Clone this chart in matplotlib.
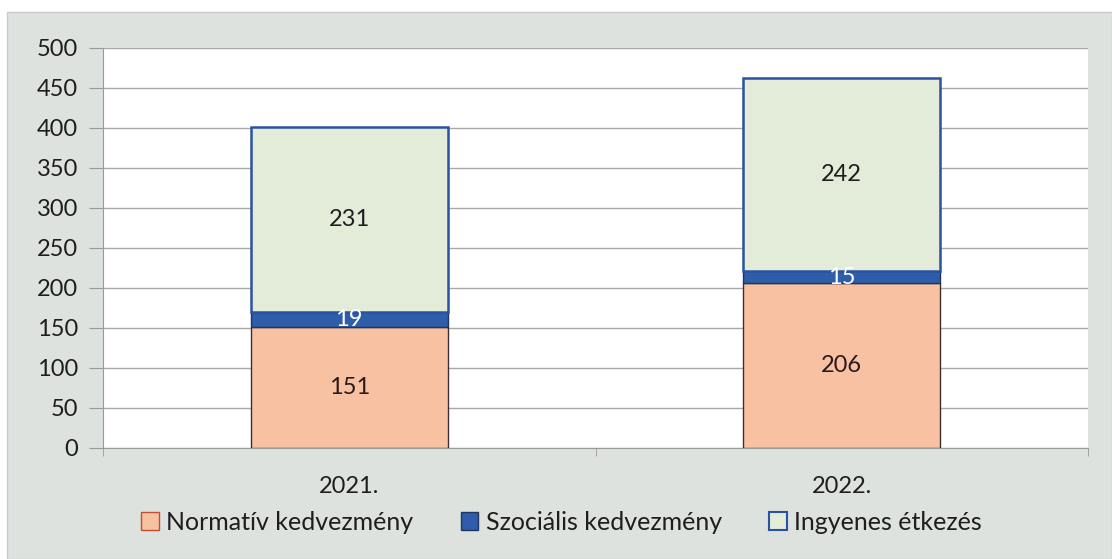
import matplotlib
matplotlib.use("Agg")
import matplotlib.pyplot as plt
from matplotlib.patches import Rectangle
import numpy as np

years = ["2021.", "2022."]
normativ = [151, 206]
szocialis = [19, 15]
ingyenes = [231, 242]
series_names = ["Normatív kedvezmény", "Szociális kedvezmény", "Ingyenes étkezés"]
yticks = [0, 50, 100, 150, 200, 250, 300, 350, 400, 450, 500]

plt.rcParams["font.family"] = ["Lato", "DejaVu Sans"]
fs = 17
txt = "#1e1e1e"

fig = plt.figure(figsize=(11.12, 5.59), dpi=100)
fig.patch.set_facecolor("white")
fig.patches.append(Rectangle((7 / 1112, 0), 1 - 7 / 1112, 1 - 12 / 559,
                             transform=fig.transFigure, facecolor="#dde2de",
                             edgecolor="#c8cbc8", lw=1, zorder=-10))

ax = fig.add_axes([103 / 1112, 111 / 559, 985 / 1112, 400 / 559])
ax.set_facecolor("white")

x = np.arange(len(years))
w = 0.4
c_norm, c_szoc, c_ingy = "#f7c1a2", "#2e5ea9", "#e3ecd9"

ax.bar(x, normativ, w, color=c_norm, edgecolor="#3a3030", lw=1, zorder=3)
ax.bar(x, szocialis, w, bottom=normativ, color=c_szoc, edgecolor="#1f3560",
       lw=1, zorder=3)
bot3 = [a + b for a, b in zip(normativ, szocialis)]
ax.bar(x, ingyenes, w, bottom=bot3, color=c_ingy, edgecolor="#2a52a0",
       lw=1.8, zorder=3)

for i in range(len(years)):
    ax.text(x[i], normativ[i] / 2, str(normativ[i]), ha="center", va="center",
            fontsize=fs, color="#2a1a1a", zorder=4)
    ax.text(x[i], normativ[i] + szocialis[i] / 2, str(szocialis[i]), ha="center",
            va="center", fontsize=fs, color="white", zorder=4)
    ax.text(x[i], bot3[i] + ingyenes[i] / 2, str(ingyenes[i]), ha="center",
            va="center", fontsize=fs, color=txt, zorder=4)

ax.set_ylim(0, 500)
ax.set_xlim(-0.5, 1.5)
ax.set_yticks(yticks)
ax.set_yticklabels([str(t) for t in yticks], fontsize=fs, color=txt)
ax.yaxis.grid(True, color="#a8a8a8", lw=1, zorder=0)
ax.set_axisbelow(True)

ax.set_xticks(x)
ax.set_xticklabels(years, fontsize=fs, color=txt)
ax.tick_params(axis="x", length=0, pad=20)
ax.set_xticks([-0.5, 0.5, 1.5], minor=True)
ax.tick_params(axis="x", which="minor", length=6, color="#999999")
ax.tick_params(axis="y", length=10, color="#999999", pad=8)

for s in ["top", "right"]:
    ax.spines[s].set_visible(False)
ax.spines["left"].set_color("#999999")
ax.spines["bottom"].set_color("#999999")

handles = [Rectangle((0, 0), 1, 1, facecolor=c_norm, edgecolor="#c05030", lw=1),
           Rectangle((0, 0), 1, 1, facecolor=c_szoc, edgecolor="#1f3560", lw=1),
           Rectangle((0, 0), 1, 1, facecolor=c_ingy, edgecolor="#2a52a0", lw=1.5)]
fig.legend(handles, series_names, loc="center", bbox_to_anchor=(0.505, 37 / 559),
           ncol=3, frameon=False, fontsize=fs + 1, handlelength=0.7, handleheight=0.7,
           handletextpad=0.3, columnspacing=1.9, labelcolor=txt)

fig.savefig("out.png", dpi=100, facecolor=fig.get_facecolor())
